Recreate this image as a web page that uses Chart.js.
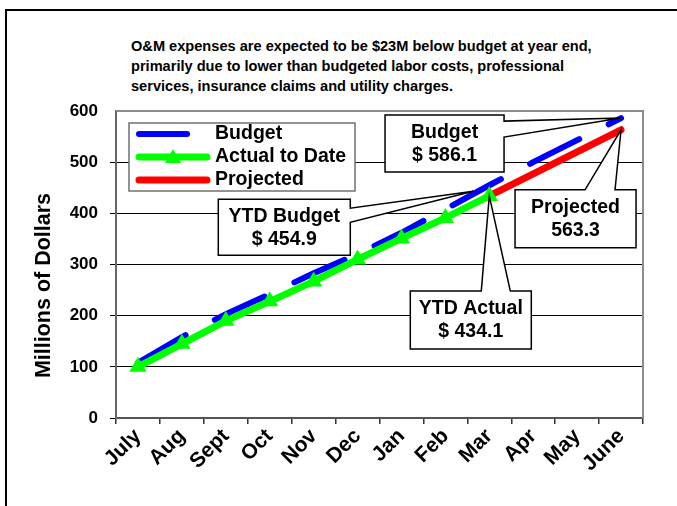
<!DOCTYPE html>
<html>
<head>
<meta charset="utf-8">
<script src="https://cdn.jsdelivr.net/npm/chart.js@4/dist/chart.umd.min.js"></script>
<style>
  html,body{margin:0;padding:0;background:#fff;}
  #wrap{position:relative;width:677px;height:506px;overflow:hidden;}
  #frame{position:absolute;left:5px;top:9px;width:800px;height:600px;border-left:2px solid #000;border-top:2px solid #000;}
  #note{position:absolute;left:131px;top:36px;font:bold 14.6px "Liberation Sans",Arial,sans-serif;line-height:20px;color:#000;white-space:nowrap;}
  canvas{position:absolute;left:0;top:0;}
</style>
</head>
<body>
<div id="wrap">
  <div id="frame"></div>
  <div id="note">O&amp;M expenses are expected to be $23M below budget at year end,<br>primarily due to lower than budgeted labor costs, professional<br>services, insurance claims and utility charges.</div>
  <canvas id="c" width="677" height="506"></canvas>
</div>
<script>
// months of the fiscal year, values in millions of dollars
var months=['July','Aug','Sept','Oct','Nov','Dec','Jan','Feb','Mar','Apr','May','June'];
var budget=[108,158,203,242,283,320,362,408,454.9,500,543,586.1];
var actual=[100,145,190,228,267,310,351,391,434.1,null,null,null];
var projected=[null,null,null,null,null,null,null,null,434.1,477,520,563.3];
var yTicks=[0,100,200,300,400,500,600];

var FONT='"Liberation Sans",Arial,sans-serif';

// callout boxes: text, anchor (dataset, index), tip nudge, box relative to tip, wedge side
var callouts=[
  {lines:['Budget','$ 586.1'],ds:0,i:11,nudge:[0,0],box:[-236,-3,119,57],side:'right',wedge:[6,22]},
  {lines:['YTD Budget','$ 454.9'],ds:0,i:8,nudge:[-16,6],box:[-255,8,132,56],side:'right',wedge:[9,23]},
  {lines:['Projected','563.3'],ds:2,i:11,nudge:[0,0],box:[-106,60,121,58],side:'top',wedge:[70,100]},
  {lines:['YTD Actual','$ 434.1'],ds:1,i:8,nudge:[0,0],box:[-79,95,121,58],side:'top',wedge:[71,100]}
];

var extras={
  id:'extras',
  afterDatasetsDraw:function(chart){
    var c=chart.ctx,ca=chart.chartArea;
    c.save();
    // plot border (top and right)
    c.strokeStyle='#8c8c8c';c.lineWidth=2;
    c.beginPath();c.moveTo(ca.left,ca.top);c.lineTo(ca.right,ca.top);c.lineTo(ca.right,ca.bottom);c.stroke();

    // legend
    var lx=ca.left+13,ly=ca.top+12;
    c.fillStyle='#fff';c.fillRect(lx,ly,226,68);
    c.strokeStyle='#707070';c.lineWidth=1.5;c.strokeRect(lx,ly,226,68);
    c.lineCap='round';
    c.lineWidth=6;c.strokeStyle='#0000ff';
    c.beginPath();c.moveTo(lx+10,ly+11);c.lineTo(lx+58,ly+11);c.stroke();
    c.lineWidth=7;c.strokeStyle='#00ff00';
    c.beginPath();c.moveTo(lx+10,ly+34);c.lineTo(lx+78,ly+34);c.stroke();
    c.fillStyle='#00ff00';
    c.beginPath();c.moveTo(lx+44,ly+26);c.lineTo(lx+52,ly+40);c.lineTo(lx+36,ly+40);c.closePath();c.fill();
    c.strokeStyle='#ff0000';
    c.beginPath();c.moveTo(lx+10,ly+57);c.lineTo(lx+78,ly+57);c.stroke();
    c.fillStyle='#000';c.font='bold 19.5px '+FONT;c.textAlign='left';c.textBaseline='middle';
    c.fillText('Budget',lx+86,ly+11);
    c.fillText('Actual to Date',lx+86,ly+34);
    c.fillText('Projected',lx+86,ly+57);

    // callouts
    callouts.forEach(function(o){
      var pt=chart.getDatasetMeta(o.ds).data[o.i];
      var tx=pt.x+o.nudge[0],ty=pt.y+o.nudge[1];
      var x0=tx+o.box[0],y0=ty+o.box[1],x1=x0+o.box[2],y1=y0+o.box[3];
      c.beginPath();
      if(o.side==='right'){
        c.moveTo(x0,y0);c.lineTo(x1,y0);c.lineTo(x1,y0+o.wedge[0]);c.lineTo(tx,ty);
        c.lineTo(x1,y0+o.wedge[1]);c.lineTo(x1,y1);c.lineTo(x0,y1);
      }else{
        c.moveTo(x0,y0);c.lineTo(x0+o.wedge[0],y0);c.lineTo(tx,ty);c.lineTo(x0+o.wedge[1],y0);
        c.lineTo(x1,y0);c.lineTo(x1,y1);c.lineTo(x0,y1);
      }
      c.closePath();
      c.fillStyle='#fff';c.fill();
      c.lineJoin='miter';c.lineWidth=1.5;c.strokeStyle='#000';c.stroke();
      c.fillStyle='#000';c.font='bold 19.5px '+FONT;c.textAlign='center';c.textBaseline='middle';
      var cx=(x0+x1)/2,cy=(y0+y1)/2;
      c.fillText(o.lines[0],cx,cy-11);
      c.fillText(o.lines[1],cx,cy+12);
    });

    // y axis title
    c.save();
    c.translate(ca.left-72,(ca.top+ca.bottom)/2+21);
    c.rotate(-Math.PI/2);
    c.font='bold 21.5px '+FONT;c.textAlign='center';c.textBaseline='middle';c.fillStyle='#000';
    c.fillText('Millions of Dollars',0,0);
    c.restore();
    c.restore();
  }
};

new Chart(document.getElementById('c'),{
  type:'line',
  data:{labels:months,datasets:[
    {label:'Budget',data:budget,borderColor:'#0000ff',borderWidth:6,borderDash:[55,33],borderCapStyle:'round',pointRadius:0,tension:0,order:3},
    {label:'Actual to Date',data:actual,borderColor:'#00ff00',borderWidth:7,pointStyle:'triangle',pointRadius:10,pointBackgroundColor:'#00ff00',pointBorderWidth:0,tension:0,order:1},
    {label:'Projected',data:projected,borderColor:'#ff0000',borderWidth:7,borderCapStyle:'round',pointRadius:0,tension:0,order:2}
  ]},
  options:{
    responsive:false,animation:false,
    layout:{padding:{top:111,right:34,bottom:0,left:0}},
    plugins:{legend:{display:false},tooltip:{enabled:false}},
    scales:{
      x:{offset:true,
        grid:{offset:true,drawOnChartArea:false,drawTicks:true,tickLength:6,color:'#333',lineWidth:1.5},
        border:{display:true,color:'#555',width:2},
        ticks:{maxRotation:45,minRotation:45,padding:0,autoSkip:false,color:'#000',font:{family:FONT,size:21,weight:'bold'}},
        afterFit:function(s){s.height=88;}},
      y:{min:0,max:600,
        afterBuildTicks:function(s){s.ticks=yTicks.map(function(v){return {value:v};});},
        grid:{color:function(ctx){return ctx.tick&&ctx.tick.value===600?'rgba(0,0,0,0)':'#000';},lineWidth:1,tickLength:6,drawTicks:true},
        border:{display:true,color:'#666',width:2},
        ticks:{padding:12,color:'#000',font:{family:FONT,size:17,weight:'bold'}},
        afterFit:function(s){s.width=116;}}
    }
  },
  plugins:[extras]
});
</script>
</body>
</html>
